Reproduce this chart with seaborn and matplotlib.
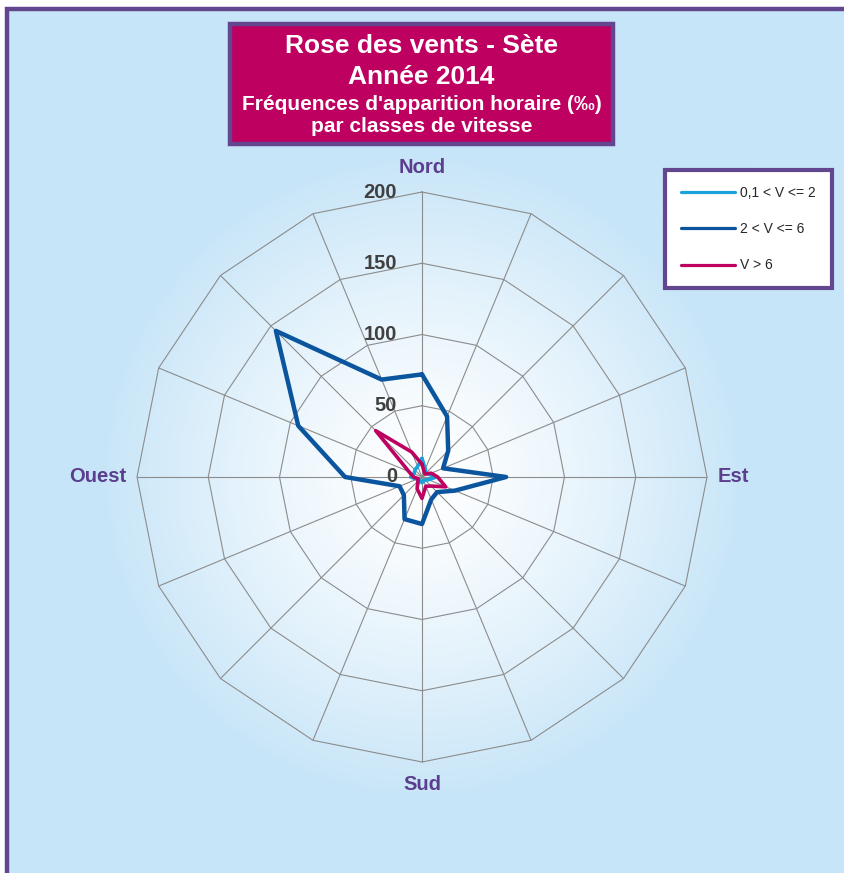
import numpy as np
import pandas as pd
import seaborn as sns
import matplotlib.pyplot as plt
from matplotlib.patches import Rectangle

# 16 secteurs, dans le sens horaire depuis le Nord
directions = ['Nord', '', '', '', 'Est', '', '', '', 'Sud', '', '', '', 'Ouest', '', '', '']
classes = ['0,1 < V <= 2', '2 < V <= 6', 'V > 6']
v_faible = [13, 6, 4, 5, 10, 5, 3, 3, 4, 3, 3, 4, 8, 6, 7, 8]
v_moyen = [72, 46, 26, 16, 59, 25, 15, 17, 33, 32, 18, 17, 54, 94, 145, 74]
v_fort = [9, 4, 3, 7, 11, 18, 9, 7, 15, 9, 4, 3, 6, 10, 46, 19]
r_ticks = [0, 50, 100, 150, 200]
titre = ['Rose des vents - Sète', 'Année 2014',
         "Fréquences d'apparition horaire (‰)", 'par classes de vitesse']

couleurs = ['#1AA2DA', '#0A559E', '#BE0061']
violet = '#62468F'
fond = np.array([199, 229, 248]) / 255

plt.rcParams['font.family'] = ['Liberation Sans', 'DejaVu Sans']

W, H = 844, 873
fig = plt.figure(figsize=(W / 100, H / 100), dpi=100, facecolor='white')

# cadre general
fig.patches.append(Rectangle((7 / W, 1 - 950 / H), 1000 / W, (950 - 9) / H,
                             transform=fig.transFigure, fc=fond, ec=violet,
                             lw=3.2, zorder=-10))

# centre et rayon du graphe (pixels)
cx, cy, R = 422, 477, 285
rmax = 210
rpx = R * rmax / 200

# fond en degrade radial
gpx = 325
bg = fig.add_axes([(cx - gpx) / W, (H - cy - gpx) / H, 2 * gpx / W, 2 * gpx / H])
g = np.linspace(-1, 1, 400)
xx, yy = np.meshgrid(g, g)
t = np.clip(np.hypot(xx, yy), 0, 1)[..., None] ** 1.3
img = (1 - t) * np.ones(3) + t * fond
bg.imshow(img, extent=[-1, 1, -1, 1], aspect='auto', interpolation='bilinear')
bg.axis('off')

ax = fig.add_axes([(cx - rpx) / W, (H - cy - rpx) / H, 2 * rpx / W, 2 * rpx / H],
                  projection='polar')
ax.set_theta_zero_location('N')
ax.set_theta_direction(-1)
ax.patch.set_visible(False)
ax.spines['polar'].set_visible(False)
ax.grid(False)

n = len(directions)
angles = np.arange(n) * 2 * np.pi / n
ferme = np.append(angles, angles[0])

# grille polygonale
for r in r_ticks[1:]:
    ax.plot(ferme, [r] * (n + 1), color='#8C8C8C', lw=0.8, zorder=1)
ax.vlines(angles, 0, r_ticks[-1], colors='#8C8C8C', lw=0.8, zorder=1)

series = {classes[0]: v_faible, classes[1]: v_moyen, classes[2]: v_fort}
largeurs = {classes[0]: 2.6, classes[1]: 3.2, classes[2]: 2.6}
handles = {}
for nom in [classes[1], classes[0], classes[2]]:
    vals = series[nom]
    d = pd.DataFrame({'theta': ferme, 'r': vals + vals[:1]})
    sns.lineplot(data=d, x='theta', y='r', sort=False, estimator=None, ax=ax,
                 color=couleurs[classes.index(nom)], lw=largeurs[nom], label=nom,
                 solid_joinstyle='round', solid_capstyle='round', zorder=3)
    handles[nom] = ax.get_lines()[-1]

ax.set_ylim(0, rmax)
ax.set_xticks([])
ax.set_yticks([])
ax.set_xlabel('')
ax.set_ylabel('')

# graduations
for v in r_ticks:
    ax.annotate(str(v), xy=(0, v), xytext=(-18, 0), textcoords='offset points',
                ha='right', va='center', fontsize=14.5, fontweight='bold',
                color='#404040', zorder=4)

# points cardinaux
decal = {'Nord': (0, 17.5, 'center', 'center'), 'Est': (8, 0, 'left', 'center'),
         'Sud': (0, -16, 'center', 'center'), 'Ouest': (-8, 0, 'right', 'center')}
for a, lab in zip(angles, directions):
    if lab:
        dx, dy, ha, va = decal[lab]
        ax.annotate(lab, xy=(a, r_ticks[-1]), xytext=(dx, dy), textcoords='offset points',
                    ha=ha, va=va, fontsize=14.5, fontweight='bold', color='#5B3F8E')

# legende
leg = ax.legend([handles[c] for c in classes], classes, loc='upper left',
                bbox_to_anchor=(665 / W, 1 - 170 / H), bbox_transform=fig.transFigure,
                frameon=True, fancybox=False, framealpha=1, facecolor='white',
                edgecolor=violet, borderpad=1.15, handlelength=3.9, handletextpad=0.35,
                labelspacing=1.6, fontsize=10, borderaxespad=0)
leg.get_frame().set_linewidth(3)
for l in leg.get_lines():
    l.set_linewidth(2.3)
for txt in leg.get_texts():
    txt.set_color('#262626')

# titre
fig.patches.append(Rectangle((230 / W, 1 - 144 / H), 383 / W, 120 / H,
                             transform=fig.transFigure, fc='#BE0060', ec=violet,
                             lw=3.2, zorder=5))
bases = [53, 84, 110, 132]
tailles = [19, 19, 15, 15]
for ligne, b, s in zip(titre, bases, tailles):
    fig.text(421.5 / W, 1 - b / H, ligne, ha='center', va='baseline', color='white',
             fontsize=s, fontweight='bold', zorder=6)

fig.savefig('out.png', dpi=100, facecolor='white')
